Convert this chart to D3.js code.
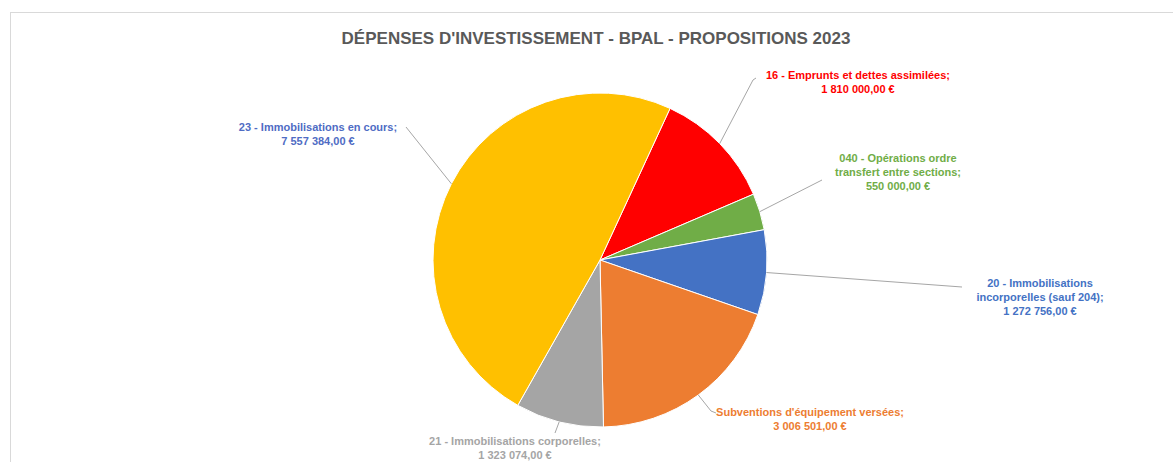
<!DOCTYPE html>
<html>
<head>
<meta charset="utf-8">
<script src="https://cdn.jsdelivr.net/npm/d3@7"></script>
<style>
  body { margin: 0; background: #fff; }
  svg { display: block; font-family: 'Liberation Sans', Arial, sans-serif; }
</style>
</head>
<body>
<div id="chart"></div>
<script>
// data
var categories = [
  '16 - Emprunts et dettes assimilées',
  '040 - Opérations ordre transfert entre sections',
  '20 - Immobilisations incorporelles (sauf 204)',
  "Subventions d'équipement versées",
  '21 - Immobilisations corporelles',
  '23 - Immobilisations en cours'
]
var values = [1810000, 550000, 1272756, 3006501, 1323074, 7557384]
var labelLines = [
  ['16 - Emprunts et dettes assimilées;'],
  ['040 - Opérations ordre', 'transfert entre sections;'],
  ['20 - Immobilisations', 'incorporelles (sauf 204);'],
  ["Subventions d'équipement versées;"],
  ['21 - Immobilisations corporelles;'],
  ['23 - Immobilisations en cours;']
]
var colors = ['#FF0000', '#70AD47', '#4472C4', '#ED7D31', '#A5A5A5', '#FFC000']
var labelColors = ['#FF0000', '#70AD47', '#4472C4', '#ED7D31', '#A5A5A5', '#4F6CC4']
var title = "DÉPENSES D'INVESTISSEMENT - BPAL - PROPOSITIONS 2023"

// where the labels were dragged to (center x, first line y) and where their leader ends
var labelPos = [
  { x: 858, y: 79, end: [[753, 80], [756, 78]] },
  { x: 898, y: 162, end: [[822, 180]] },
  { x: 1040, y: 287, end: [[962, 287]] },
  { x: 810, y: 416, end: [[711, 411], [716, 413]] },
  { x: 515, y: 445, end: [[555, 433]] },
  { x: 318, y: 131, end: [[406, 127]] }
]

var width = 1173
var height = 462
var cx = 600
var cy = 260
var radius = 167

var fr = d3.formatLocale({ decimal: ',', thousands: '\u00a0', grouping: [3], currency: ['', '\u00a0€'] })
var money = fr.format('$,.2f')

var svg = d3.select('#chart').append('svg')
  .attr('width', width)
  .attr('height', height)

// chart frame
svg.append('rect')
  .attr('x', 10.5)
  .attr('y', 12.5)
  .attr('width', 1200)
  .attr('height', 500)
  .attr('fill', '#fff')
  .attr('stroke', '#d9d9d9')

svg.append('text')
  .attr('x', 596)
  .attr('y', 44)
  .attr('text-anchor', 'middle')
  .attr('font-size', 17)
  .attr('font-weight', 'bold')
  .attr('fill', '#595959')
  .text(title)

var data = categories.map(function (c, i) {
  return { name: c, value: values[i], i: i }
})

// Excel rotated the first slice by about 25 degrees
var start = 24.8 * Math.PI / 180
var pie = d3.pie()
  .sort(null)
  .value(function (d) { return d.value })
  .startAngle(start)
  .endAngle(start + 2 * Math.PI)

var arc = d3.arc().innerRadius(0).outerRadius(radius)
var edge = d3.arc().innerRadius(radius).outerRadius(radius)

var g = svg.append('g').attr('transform', 'translate(' + cx + ',' + cy + ')')
var arcs = pie(data)

g.selectAll('path.slice')
  .data(arcs)
  .enter()
  .append('path')
  .attr('class', 'slice')
  .attr('d', arc)
  .attr('fill', function (d) { return colors[d.data.i] })
  .attr('stroke', '#fff')
  .attr('stroke-width', 1)

// leader lines from the edge of each slice to its label
var line = d3.line()
svg.selectAll('path.leader')
  .data(arcs)
  .enter()
  .append('path')
  .attr('class', 'leader')
  .attr('d', function (d) {
    var c = edge.centroid(d)
    var pts = [[cx + c[0], cy + c[1]]].concat(labelPos[d.data.i].end)
    return line(pts)
  })
  .attr('fill', 'none')
  .attr('stroke', '#a6a6a6')
  .attr('stroke-width', 1)

var labels = svg.selectAll('text.lbl')
  .data(arcs)
  .enter()
  .append('text')
  .attr('class', 'lbl')
  .attr('text-anchor', 'middle')
  .attr('font-size', 11)
  .attr('font-weight', 'bold')
  .attr('fill', function (d) { return labelColors[d.data.i] })

labels.each(function (d) {
  var p = labelPos[d.data.i]
  var lines = labelLines[d.data.i].concat([money(d.data.value)])
  var t = d3.select(this)
  lines.forEach(function (s, k) {
    t.append('tspan')
      .attr('x', p.x)
      .attr('y', p.y + k * 14)
      .text(s)
  })
})
</script>
</body>
</html>
